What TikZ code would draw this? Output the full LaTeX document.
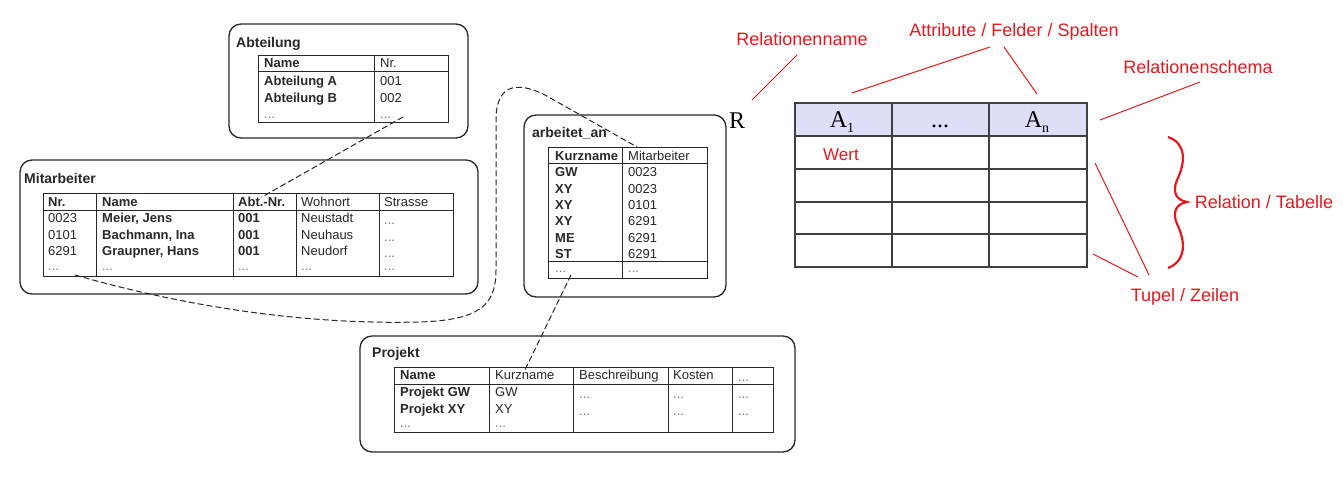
\documentclass[tikz,border=0pt]{standalone}
\usepackage{fontspec}
\setmainfont{Liberation Sans}
\newfontfamily\serifR{Liberation Serif}
\usepackage{xcolor}
\definecolor{annored}{RGB}{226,26,32}
\definecolor{hdrblue}{RGB}{221,222,248}
\definecolor{scan}{RGB}{40,40,40}
\tikzset{
        box/.style={draw=scan, line width=1.3pt, rounded corners=12pt},
        tab/.style={draw=scan, line width=0.9pt},
        cell/.style={anchor=west, inner sep=0pt, text height=9.3pt, text depth=0pt,
            font=\fontsize{13}{15}\selectfont, text=scan},
        keycell/.style={cell, font=\fontsize{13}{15}\selectfont\bfseries},
        ellip/.style={cell, text=black!55},
        tabtitle/.style={anchor=west, inner sep=0pt, text height=10pt, text depth=0pt,
            font=\fontsize{14}{16}\selectfont\bfseries, text=scan},
        link/.style={draw=scan, line width=1pt, dash pattern=on 6pt off 3pt},
        anno/.style={text=annored, inner sep=0pt, font=\fontsize{18}{20}\selectfont},
        pointer/.style={draw=annored, line width=1pt},
        reltab/.style={draw=black!75, line width=1.4pt},
        attr/.style={anchor=base, inner sep=0pt, font=\serifR\fontsize{24}{24}\selectfont}
}

\begin{document}
\begin{tikzpicture}[x=1pt, y=-1pt]
        \fill[white] (0,0) rectangle (1343,497);
        \useasboundingbox (0,0) rectangle (1343,497);

        \draw[box] (229,24) rectangle (468,138);
        \node[tabtitle] (abtTitle) at (236,43) {Abteilung};
        \draw[tab] (258,55) rectangle (448,122);
        \draw[tab] (258,71) -- (448,71);
        \draw[tab] (374,55) -- (374,122);
        \node[keycell] (abtName) at (264,63) {Name};
        \node[cell] (abtNr) at (380,63) {Nr.};
        \node[keycell] (abtA) at (264,81) {Abteilung A};
        \node[cell] (abtA1) at (380,81) {001};
        \node[keycell] (abtB) at (264,98) {Abteilung B};
        \node[cell] (abtB1) at (380,98) {002};
        \node[ellip] (abtDotsA) at (264,114) {...};
        \node[ellip] (abtDotsB) at (380,114) {...};

        \draw[box] (20,160) rectangle (478,294);
        \node[tabtitle] (maTitle) at (24,179) {Mitarbeiter};
        \draw[tab] (43,193) rectangle (453,276);
        \draw[tab] (43,210) -- (453,210);
        \draw[tab] (96,193) -- (96,276);
        \draw[tab] (233,193) -- (233,276);
        \draw[tab] (296,193) -- (296,276);
        \draw[tab] (379,193) -- (379,276);
        \node[keycell] (maNr) at (48,202) {Nr.};
        \node[keycell] (maName) at (102,202) {Name};
        \node[keycell] (maAbtNr) at (238,202) {Abt.-Nr.};
        \node[cell] (maOrt) at (301,202) {Wohnort};
        \node[cell] (maStr) at (384,202) {Strasse};
        \node[cell] at (48,218) {0023};
        \node[keycell] at (102,218) {Meier, Jens};
        \node[keycell] at (238,218) {001};
        \node[cell] at (301,218) {Neustadt};
        \node[ellip] at (384,220) {...};
        \node[cell] at (48,235) {0101};
        \node[keycell] at (102,235) {Bachmann, Ina};
        \node[keycell] at (238,235) {001};
        \node[cell] at (301,235) {Neuhaus};
        \node[ellip] at (384,237) {...};
        \node[cell] at (48,251) {6291};
        \node[keycell] at (102,251) {Graupner, Hans};
        \node[keycell] at (238,251) {001};
        \node[cell] at (301,251) {Neudorf};
        \node[ellip] at (384,253) {...};
        \node[ellip] (maDots) at (48,266) {...};
        \node[ellip] at (102,266) {...};
        \node[ellip] at (238,266) {...};
        \node[ellip] at (301,266) {...};
        \node[ellip] at (384,266) {...};

        \draw[box] (524,115) rectangle (726,297);
        \node[tabtitle] (aaTitle) at (532,133) {arbeitet\_an};
        \draw[tab] (548,147) rectangle (707,278);
        \draw[tab] (548,163) -- (707,163);
        \draw[tab] (548,261) -- (707,261);
        \draw[tab] (622,147) -- (622,278);
        \node[keycell] (aaKurz) at (555,156) {Kurzname};
        \node[cell] (aaMit) at (628,156) {Mitarbeiter};
        \node[keycell] at (555,172) {GW};
        \node[cell] at (628,172) {0023};
        \node[keycell] at (555,189) {XY};
        \node[cell] at (628,189) {0023};
        \node[keycell] at (555,205) {XY};
        \node[cell] at (628,205) {0101};
        \node[keycell] at (555,221) {XY};
        \node[cell] at (628,221) {6291};
        \node[keycell] at (555,238) {ME};
        \node[cell] at (628,238) {6291};
        \node[keycell] at (555,254) {ST};
        \node[cell] at (628,254) {6291};
        \node[ellip] (aaDots) at (555,268) {...};
        \node[ellip] at (628,268) {...};

        \draw[box] (360,336) rectangle (795,452);
        \node[tabtitle] (pjTitle) at (372,352) {Projekt};
        \draw[tab] (394,367) rectangle (773,432);
        \draw[tab] (394,384) -- (773,384);
        \draw[tab] (489,367) -- (489,432);
        \draw[tab] (573,367) -- (573,432);
        \draw[tab] (668,367) -- (668,432);
        \draw[tab] (732,367) -- (732,432);
        \node[keycell] (pjName) at (400,375) {Name};
        \node[cell] (pjKurz) at (495,375) {Kurzname};
        \node[cell] at (579,375) {Beschreibung};
        \node[cell] at (673,375) {Kosten};
        \node[ellip] at (738,377) {...};
        \node[keycell] at (400,392) {Projekt GW};
        \node[cell] at (495,392) {GW};
        \node[ellip] at (579,394) {...};
        \node[ellip] at (673,394) {...};
        \node[ellip] at (738,394) {...};
        \node[keycell] at (400,409) {Projekt XY};
        \node[cell] at (495,409) {XY};
        \node[ellip] at (579,411) {...};
        \node[ellip] at (673,411) {...};
        \node[ellip] at (738,411) {...};
        \node[ellip] at (400,423) {...};
        \node[ellip] at (495,423) {...};

        \coordinate (abtFK) at (403,117);
        \coordinate (maKey) at (75,275);
        \coordinate (aaMitKey) at (637,147);
        \coordinate (aaFK) at (571,275);
        \draw[link] (abtFK) -- (maAbtNr.north);
        \draw[link] (maKey) .. controls (180,305) and (300,325) .. (420,322)
            .. controls (480,320) and (496,305) .. (496,270) -- (496,120)
            .. controls (496,86) and (515,80) .. (545,95) -- (aaMitKey);
        \draw[link] (aaFK) -- (pjKurz.north);

        \node[font=\serifR\fontsize{24}{24}\selectfont, inner sep=0pt] (R) at (737,121) {R};
        \fill[hdrblue] (795,103) rectangle (1087,136);
        \draw[reltab] (795,103) rectangle (1087,267);
        \draw[reltab] (795,136) -- (1087,136);
        \draw[reltab] (795,169) -- (1087,169);
        \draw[reltab] (795,202) -- (1087,202);
        \draw[reltab] (795,234) -- (1087,234);
        \draw[reltab] (892,103) -- (892,267);
        \draw[reltab] (989,103) -- (989,267);
        \node[attr] (A1) at (842,128) {A\raisebox{-5pt}{\fontsize{14}{14}\selectfont 1}};
        \node[attr] (Adots) at (940,128) {...};
        \node[attr] (An) at (1037,128) {A\raisebox{-5pt}{\fontsize{14}{14}\selectfont n}};
        \node[text=annored, inner sep=0pt, font=\fontsize{17}{19}\selectfont] (wert) at (841,155) {Wert};

        \node[anno] (relname) at (802,39) {Relationenname};
        \node[anno] (attrib) at (1014,32) {Attribute / Felder / Spalten};
        \node[anno] (schema) at (1198,67) {Relationenschema};
        \node[anno] (relation) at (1264,202) {Relation / Tabelle};
        \node[anno] (tupel) at (1185,297) {Tupel / Zeilen};

        \coordinate (relnameEnd) at (797,55);
        \coordinate (rEnd) at (752,100);
        \coordinate (attribL) at (990,47);
        \coordinate (attribR) at (1004,47);
        \coordinate (a1End) at (852,93);
        \coordinate (anEnd) at (1037,94);
        \coordinate (schemaEnd) at (1200,82);
        \coordinate (hdrEnd) at (1100,120);
        \coordinate (row1End) at (1095,163);
        \coordinate (row4End) at (1093,254);
        \coordinate (tupelL) at (1138,277);
        \coordinate (tupelR) at (1149,275);
        \draw[pointer] (relnameEnd) -- (rEnd);
        \draw[pointer] (attribL) -- (a1End);
        \draw[pointer] (attribR) -- (anEnd);
        \draw[pointer] (schemaEnd) -- (hdrEnd);
        \draw[pointer] (row1End) -- (tupelR);
        \draw[pointer] (row4End) -- (tupelL);

        \draw[annored, line width=2.2pt] (1168,137)
            .. controls (1186,143) and (1186,162) .. (1177,180)
            .. controls (1172,192) and (1176,200) .. (1187,202)
            .. controls (1176,204) and (1172,212) .. (1177,224)
            .. controls (1186,242) and (1186,261) .. (1168,268);
\end{tikzpicture}
\end{document}
